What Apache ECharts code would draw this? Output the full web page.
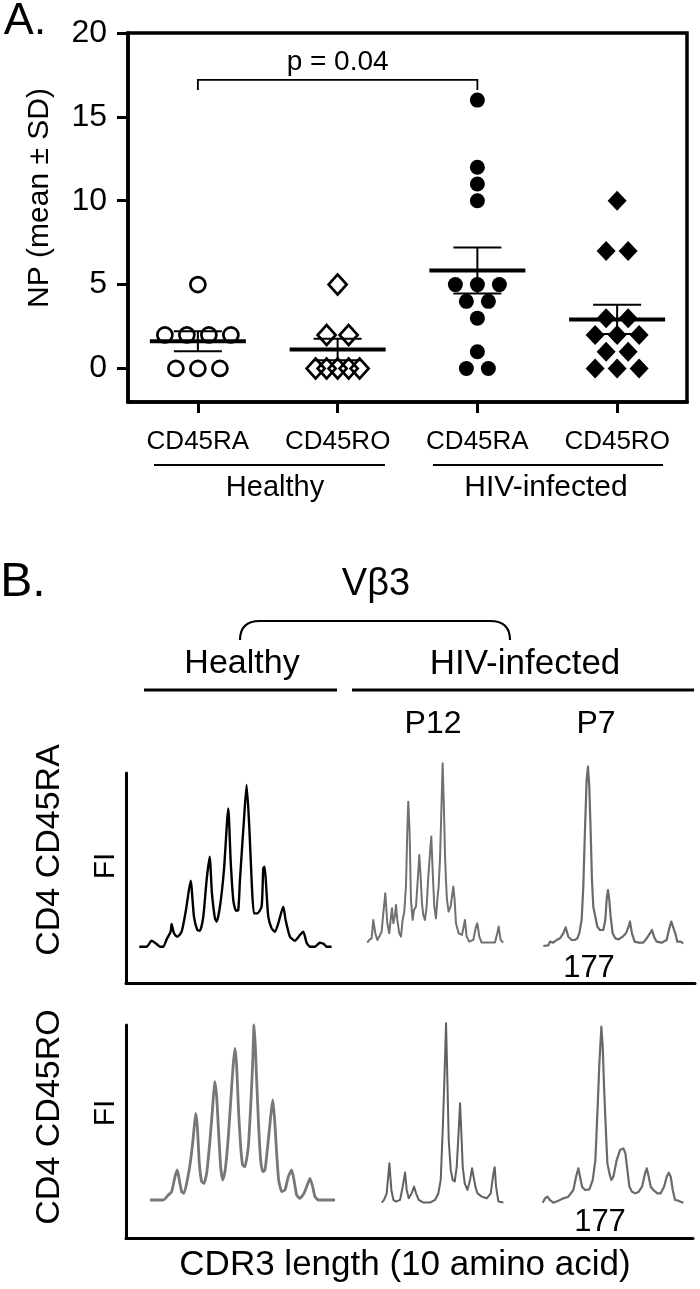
<!DOCTYPE html>
<html><head><meta charset="utf-8">
<script src="https://cdn.jsdelivr.net/npm/echarts@6/dist/echarts.min.js"></script>
<style>html,body{margin:0;padding:0;background:#fff}#c{width:700px;height:1289px}</style>
</head><body><div id="c"></div>
<script>
// ---------- Panel A data ----------
const categories = ['CD45RA', 'CD45RO', 'CD45RA', 'CD45RO'];
const cohortLabels = ['Healthy', 'HIV-infected'];
const healthyCD45RA = [5, 2, 2, 2, 2, 0, 0, 0];
const healthyCD45RO = [5, 2, 2, 0, 0, 0, 0, 0];
const hivCD45RA = [16, 12, 11, 10, 5, 5, 5, 4, 4, 3, 1, 0, 0];
const hivCD45RO = [10, 7, 7, 3, 3, 2, 2, 2, 1, 1, 0, 0, 0];
const yTicks = [0, 5, 10, 15, 20];
const pValueText = 'p = 0.04';
const pValuePair = [1, 3];
const pValueLevel = 17.2;

// ---------- Panel B data (spectratype traces: [relative CDR3 position, fluorescence intensity]) ----------
const panelBTitle = 'V\u03b23';
const panelBGroups = ['Healthy', 'HIV-infected'];
const patientLabels = ['P12', 'P7'];
const rowLabels = ['CD4 CD45RA', 'CD4 CD45RO'];
const peakLabel = '177';
const xTitleB = 'CDR3 length (10 amino acid)';
const yTitleB = 'FI';

const traceHealthyRA = [[0,0],[22,0],[37,18],[52,8],[62,0],[72,0],[82,22],[94,45],[97,68],[104,40],[114,30],[127,45],[140,110],[154,198],[164,90],[174,50],[182,48],[192,90],[202,200],[211,270],[218,160],[227,85],[232,75],[242,120],[254,230],[267,415],[274,260],[282,140],[290,108],[297,110],[302,200],[314,380],[322,485],[330,360],[337,200],[344,100],[354,100],[367,120],[372,235],[376,240],[382,160],[387,90],[397,55],[407,45],[417,70],[432,120],[439,80],[452,30],[467,18],[482,35],[492,45],[502,12],[512,0],[527,0],[542,12],[554,8],[562,0],[577,0]];
const traceP12RA = [[0,0],[6,8],[13,13],[18,68],[24,28],[30,8],[36,18],[43,33],[48,88],[54,148],[60,58],[66,28],[70,68],[74,103],[78,58],[83,83],[86,113],[90,68],[96,28],[101,18],[106,68],[111,93],[116,168],[120,338],[123,423],[127,328],[131,128],[136,68],[140,98],[146,108],[152,198],[156,263],[160,198],[164,118],[168,83],[173,68],[178,108],[183,198],[188,268],[192,318],[196,218],[201,108],[206,73],[210,128],[214,168],[218,248],[222,388],[226,538],[230,398],[233,268],[236,188],[239,128],[244,93],[250,108],[254,138],[258,168],[262,128],[266,58],[274,28],[284,23],[290,53],[293,68],[298,18],[306,3],[318,8],[326,48],[330,58],[336,18],[343,0],[358,0],[383,0],[390,28],[394,48],[400,8],[408,0]];
const traceP7RA = [[0,0],[15,2],[20,13],[30,10],[40,18],[50,23],[60,38],[67,56],[75,28],[85,18],[95,18],[102,23],[108,38],[115,78],[120,178],[125,348],[130,498],[134,538],[138,478],[142,348],[146,198],[150,118],[156,88],[162,58],[170,48],[180,48],[186,78],[190,138],[194,168],[198,138],[202,88],[208,38],[216,23],[226,20],[238,28],[248,38],[256,58],[260,73],[266,38],[274,13],[286,10],[300,10],[310,23],[320,38],[326,48],[332,28],[340,13],[355,10],[370,18],[378,53],[384,73],[390,73],[396,38],[402,13],[412,13],[420,8]];
const traceHealthyRO = [[0,0],[15,0],[40,0],[55,15],[65,25],[75,70],[82,90],[88,60],[95,25],[102,20],[112,60],[122,120],[130,190],[137,260],[142,220],[148,110],[155,55],[162,50],[170,80],[180,180],[188,280],[194,355],[200,310],[206,200],[212,100],[218,60],[225,85],[235,190],[245,340],[250,410],[255,455],[260,400],[266,260],[272,160],[278,105],[285,100],[295,160],[302,280],[308,410],[312,525],[316,460],[320,360],[326,220],[332,120],[338,85],[345,90],[355,180],[362,250],[368,300],[374,240],[380,140],[386,60],[395,25],[405,30],[415,70],[425,90],[432,60],[440,15],[450,5],[462,20],[470,40],[480,65],[488,40],[495,10],[505,0],[530,0],[555,0]];
const traceP12RO = [[0,0],[7,8],[15,28],[23,118],[29,38],[35,8],[43,3],[55,8],[63,48],[70,90],[75,38],[81,13],[90,28],[97,48],[103,28],[111,8],[125,0],[145,0],[160,8],[170,28],[177,68],[183,218],[188,368],[193,538],[197,368],[201,188],[207,98],[213,68],[219,63],[225,108],[231,218],[235,298],[239,208],[243,108],[249,58],[257,38],[265,68],[271,103],[275,106],[281,48],[287,28],[300,18],[315,13],[327,28],[335,88],[339,106],[343,48],[350,3],[365,0]];
const traceP7RO = [[0,0],[7,13],[14,18],[22,8],[32,0],[47,6],[62,13],[77,18],[92,38],[100,78],[107,103],[112,78],[118,48],[127,38],[140,40],[150,68],[158,128],[164,268],[170,418],[176,528],[180,468],[184,348],[189,228],[194,118],[200,88],[206,68],[212,78],[222,128],[232,158],[242,163],[248,148],[254,98],[260,48],[268,33],[278,28],[288,33],[298,48],[307,88],[312,103],[318,78],[324,48],[332,38],[344,28],[354,28],[364,48],[372,78],[378,90],[384,78],[390,38],[397,8],[407,6],[414,3],[422,0]];

// ---------- helpers ----------
const FONT = '"Liberation Sans", Arial, Helvetica, sans-serif';
const gridA = {left: 128, top: 33, width: 559, height: 369};
const pxPerCat = gridA.width / 4;

function swarm(values, cat) {
  const counts = {}, seen = {};
  values.forEach(v => counts[v] = (counts[v] || 0) + 1);
  return values.map(v => {
    const n = counts[v];
    const i = seen[v] = (seen[v] === undefined ? 0 : seen[v] + 1);
    const spacing = n >= 5 ? 11 : 22;
    const off = (i - (n - 1) / 2) * spacing;
    return [cat + off / pxPerCat, v];
  });
}
function meanSem(values, cat) {
  const n = values.length;
  const m = values.reduce((a, b) => a + b, 0) / n;
  const sd = Math.sqrt(values.reduce((a, b) => a + (b - m) * (b - m), 0) / (n - 1));
  return [cat, m, sd / Math.sqrt(n)];
}
const groups = [healthyCD45RA, healthyCD45RO, hivCD45RA, hivCD45RO];
const errData = groups.map((g, i) => meanSem(g, i + 1));

// ---------- trace grids ----------
const traces = [
  {data: traceHealthyRA, grid: {left: 139.3, top: 785, width: 192.3, height: 161.7}, color: '#000', width: 2.4, smooth: 0.2},
  {data: traceP12RA, grid: {left: 367.3, top: 763.3, width: 136, height: 179.3}, color: '#707070', width: 2, smooth: 0},
  {data: traceP7RA, grid: {left: 543.3, top: 766.7, width: 140, height: 179.3}, color: '#6a6a6a', width: 2.2, smooth: 0},
  {data: traceHealthyRO, grid: {left: 150, top: 1025, width: 185, height: 175}, color: '#777', width: 2.8, smooth: 0.15},
  {data: traceP12RO, grid: {left: 381.7, top: 1023.3, width: 121.7, height: 179.3}, color: '#606060', width: 2, smooth: 0},
  {data: traceP7RO, grid: {left: 542.7, top: 1026.7, width: 140.7, height: 176}, color: '#6a6a6a', width: 2.2, smooth: 0}
];
const frames = [
  {left: 126, top: 773, width: 569, height: 210},
  {left: 126, top: 1025, width: 567, height: 213}
];

const grids = [Object.assign({show: true, borderColor: '#000', borderWidth: 3.5, containLabel: false}, gridA)];
const xAxes = [{
  gridIndex: 0, type: 'value', min: 0.5, max: 4.5,
  splitLine: {show: false},
  axisLine: {show: true, onZero: false, lineStyle: {color: '#000', width: 3.5}},
  axisTick: {show: true, customValues: [1, 2, 3, 4], length: 11, lineStyle: {color: '#000', width: 3}},
  axisLabel: {show: true, customValues: [1, 2, 3, 4], formatter: v => categories[Math.round(v) - 1], fontSize: 26, fontFamily: FONT, color: '#000', margin: 27}
}];
const yAxes = [{
  gridIndex: 0, type: 'value', min: -2, max: 20,
  splitLine: {show: false},
  axisLine: {show: true, onZero: false, lineStyle: {color: '#000', width: 3.5}},
  axisTick: {show: true, customValues: yTicks, length: 11, lineStyle: {color: '#000', width: 3}},
  axisLabel: {show: true, customValues: yTicks, fontSize: 32, fontFamily: FONT, color: '#000', margin: 21}
}];
const series = [];

const symStyle = {
  open: {color: 'rgba(0,0,0,0)', borderColor: '#000', borderWidth: 2.7, opacity: 1},
  filled: {color: '#000', opacity: 1}
};
series.push({type: 'scatter', xAxisIndex: 0, yAxisIndex: 0, name: 'Healthy CD45RA', symbol: 'circle', symbolSize: 15, itemStyle: symStyle.open, data: swarm(healthyCD45RA, 1), z: 3});
series.push({type: 'scatter', xAxisIndex: 0, yAxisIndex: 0, name: 'Healthy CD45RO', symbol: 'diamond', symbolSize: [18, 20], itemStyle: symStyle.open, data: swarm(healthyCD45RO, 2), z: 3});
series.push({type: 'scatter', xAxisIndex: 0, yAxisIndex: 0, name: 'HIV CD45RA', symbol: 'circle', symbolSize: 15, itemStyle: symStyle.filled, data: swarm(hivCD45RA, 3), z: 3});
series.push({type: 'scatter', xAxisIndex: 0, yAxisIndex: 0, name: 'HIV CD45RO', symbol: 'diamond', symbolSize: [19, 20], itemStyle: symStyle.filled, data: swarm(hivCD45RO, 4), z: 3});
series.push({
  type: 'custom', xAxisIndex: 0, yAxisIndex: 0, z: 5, data: errData, encode: {x: 0, y: 1},
  renderItem: (params, api) => {
    const x = api.value(0), m = api.value(1), s = api.value(2);
    const c = api.coord([x, m]), hi = api.coord([x, m + s]), lo = api.coord([x, m - s]);
    const st = w => ({stroke: '#000', lineWidth: w});
    return {type: 'group', children: [
      {type: 'line', shape: {x1: c[0], y1: hi[1], x2: c[0], y2: lo[1]}, style: st(2)},
      {type: 'line', shape: {x1: c[0] - 24, y1: hi[1], x2: c[0] + 24, y2: hi[1]}, style: st(2)},
      {type: 'line', shape: {x1: c[0] - 24, y1: lo[1], x2: c[0] + 24, y2: lo[1]}, style: st(2)},
      {type: 'line', shape: {x1: c[0] - 48, y1: c[1], x2: c[0] + 48, y2: c[1]}, style: st(4)}
    ]};
  }
});
series.push({
  type: 'custom', xAxisIndex: 0, yAxisIndex: 0, z: 5,
  data: [[pValuePair[0], pValueLevel, pValuePair[1]]], encode: {x: 0, y: 1},
  renderItem: (params, api) => {
    const a = api.coord([api.value(0), api.value(1)]);
    const b = api.coord([api.value(2), api.value(1)]);
    return {type: 'group', children: [
      {type: 'polyline', shape: {points: [[a[0], a[1] + 10], [a[0], a[1]], [b[0], b[1]], [b[0], b[1] + 10]]}, style: {stroke: '#000', lineWidth: 1.8, fill: null}},
      {type: 'text', x: (a[0] + b[0]) / 2, y: a[1] - 18, style: {text: pValueText, fontSize: 28, fontFamily: FONT, fill: '#000', align: 'center', verticalAlign: 'middle'}}
    ]};
  }
});

traces.forEach((t, i) => {
  grids.push(Object.assign({show: false}, t.grid));
  const xmax = t.data[t.data.length - 1][0];
  const ymax = Math.max.apply(null, t.data.map(p => p[1]));
  xAxes.push({gridIndex: i + 1, type: 'value', min: 0, max: xmax, show: false});
  yAxes.push({gridIndex: i + 1, type: 'value', min: 0, max: ymax, show: false});
  series.push({type: 'line', xAxisIndex: i + 1, yAxisIndex: i + 1, data: t.data, showSymbol: false, smooth: t.smooth, clip: false,
    lineStyle: {color: t.color, width: t.width, join: 'round'}});
});
frames.forEach((f, j) => {
  const gi = grids.length;
  grids.push(Object.assign({show: false}, f));
  xAxes.push({gridIndex: gi, type: 'value', min: 0, max: 1, splitLine: {show: false}, axisTick: {show: false}, axisLabel: {show: false},
    axisLine: {show: true, onZero: false, lineStyle: {color: '#000', width: 3}}});
  yAxes.push({gridIndex: gi, type: 'value', min: 0, max: 1, splitLine: {show: false}, axisTick: {show: false}, axisLabel: {show: false},
    axisLine: {show: true, onZero: false, lineStyle: {color: '#000', width: 3}}});
  series.push({type: 'line', xAxisIndex: gi, yAxisIndex: gi, data: []});
});

// ---------- annotations ----------
const txt = (text, x, y, size, extra) => Object.assign({type: 'text', x, y, style: {text, fontSize: size, fontFamily: FONT, fill: '#000', align: 'center', verticalAlign: 'middle'}}, extra || {});
const ln = (x1, y1, x2, y2, w) => ({type: 'line', shape: {x1, y1, x2, y2}, style: {stroke: '#000', lineWidth: w}});
const graphic = [
  txt('A.', 25, 22, 45),
  txt('NP (mean \u00b1 SD)', 40, 198, 30, {rotation: Math.PI / 2}),
  ln(154, 465, 385, 465, 2), ln(433, 465, 663, 465, 2),
  txt(cohortLabels[0], 275, 488, 29), txt(cohortLabels[1], 546, 488, 30),
  txt('B.', 23, 583, 48),
  txt(panelBTitle, 376, 585, 38),
  {type: 'bezierCurve', shape: {x1: 240, y1: 640, x2: 260, y2: 621, cpx1: 240, cpy1: 621}, style: {stroke: '#000', lineWidth: 2.2, fill: null}},
  ln(259, 621, 491, 621, 2.2),
  {type: 'bezierCurve', shape: {x1: 490, y1: 621, x2: 510, y2: 640, cpx1: 510, cpy1: 621}, style: {stroke: '#000', lineWidth: 2.2, fill: null}},
  txt(panelBGroups[0], 242, 664, 34), txt(panelBGroups[1], 525, 664, 35),
  ln(144, 690, 337, 690, 3), ln(352, 690, 694, 690, 3),
  txt(patientLabels[0], 433, 724, 32), txt(patientLabels[1], 596, 724, 32),
  txt(rowLabels[0], 50, 850, 34, {rotation: Math.PI / 2}),
  txt(rowLabels[1], 50, 1117, 34, {rotation: Math.PI / 2}),
  txt(yTitleB, 106, 866, 30, {rotation: Math.PI / 2}),
  txt(yTitleB, 106, 1113, 30, {rotation: Math.PI / 2}),
  txt(peakLabel, 589, 968, 31), txt(peakLabel, 600, 1222, 31),
  txt(xTitleB, 405, 1265, 35)
];

const chart = echarts.init(document.getElementById('c'), null, {renderer: 'canvas'});
chart.setOption({
  animation: false,
  backgroundColor: '#fff',
  grid: grids, xAxis: xAxes, yAxis: yAxes, series: series, graphic: graphic
});
</script></body></html>
